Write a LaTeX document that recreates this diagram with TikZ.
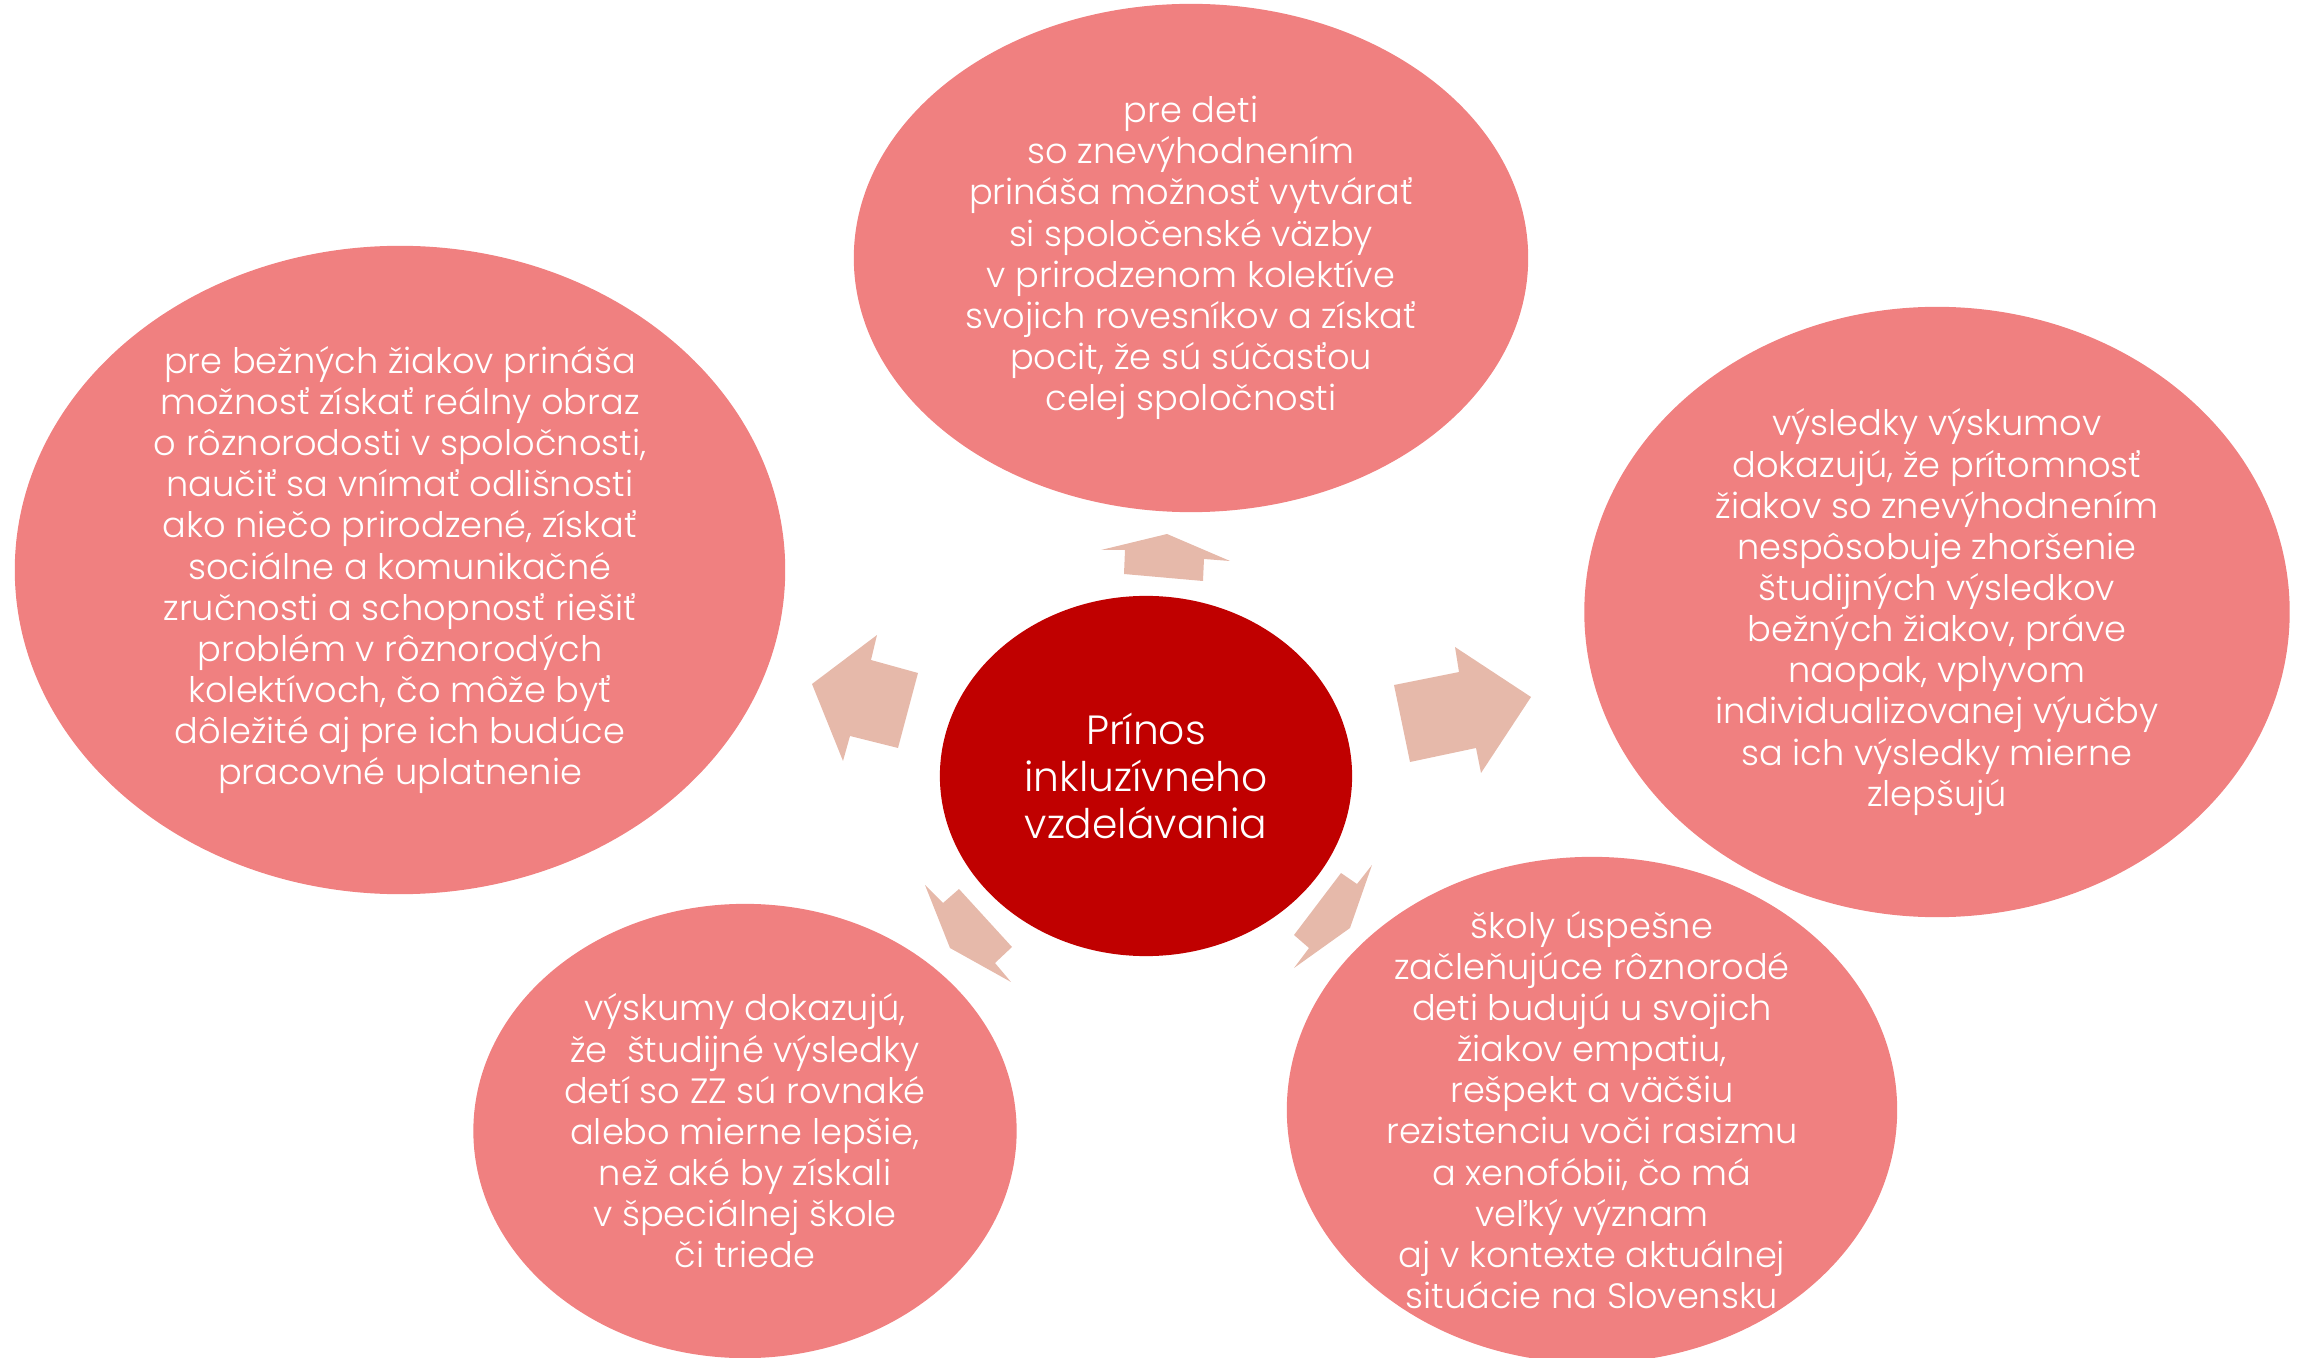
\documentclass[tikz,border=0pt]{standalone}
\usepackage{fontspec}
\setmainfont{Poppins}[UprightFont=* Light]
\usepackage{tikz}
\definecolor{bubbleRose}{RGB}{240,128,128}
\definecolor{coreRed}{RGB}{192,0,0}
\definecolor{arrowBlush}{RGB}{230,185,170}
\usetikzlibrary{shapes.geometric}

\begin{document}
\begin{tikzpicture}[x=0.01cm, y=-0.01cm,
        bubble/.style={ellipse, fill=bubbleRose, inner sep=0pt},
        bubbletext/.style={text=white, align=center, inner sep=0pt, font=\fontsize{10}{11.7}\selectfont},
        arrowpiece/.style={fill=arrowBlush}]
    \useasboundingbox (0,0) rectangle (2305,1358);
    \node[bubble, minimum width=6.74cm, minimum height=5.08cm] (benefitTop) at (1191,258) {};
    \node[bubble, minimum width=7.70cm, minimum height=6.48cm] (benefitLeft) at (400,570) {};
    \node[bubble, minimum width=7.05cm, minimum height=6.10cm] (benefitRight) at (1937,612) {};
    \node[bubble, minimum width=5.43cm, minimum height=4.54cm] (benefitLowLeft) at (745,1131) {};
    \node[bubble, minimum width=6.10cm, minimum height=5.06cm] (benefitLowRight) at (1592,1110) {};
    \node[ellipse, fill=coreRed, minimum width=4.12cm, minimum height=3.60cm, inner sep=0pt] (core) at (1146,776) {};

    \fill[arrowpiece] (1101,550) -- (1167,534) -- (1230,561) -- (1204,559) -- (1203,581) -- (1124,574) -- (1125,550) -- cycle;
    \fill[arrowpiece] (1394,685) -- (1459,672) -- (1455,647) -- (1531,697) -- (1481,773) -- (1476,748) -- (1410,762) -- cycle;
    \fill[arrowpiece] (877,635) -- (871,660) -- (918,673) -- (898,748) -- (850,736) -- (843,761) -- (812,684) -- cycle;
    \fill[arrowpiece] (925,885) -- (943,903) -- (959,889) -- (1012,947) -- (995,963) -- (1011,982) -- (950,948) -- cycle;
    \fill[arrowpiece] (1372,865) -- (1350,928) -- (1294,968) -- (1309,948) -- (1294,935) -- (1341,873) -- (1357,884) -- cycle;

    \node[text=white, align=center, font=\fontsize{11.6}{13.3}\selectfont] (coreText) at (core) {Prínos\\inkluzívneho\\vzdelávania};
    \node[bubbletext] (topText) at (benefitTop) {pre deti\\so znevýhodnením\\prináša možnosť vytvárať\\si spoločenské väzby\\v prirodzenom kolektíve\\svojich rovesníkov a získať\\pocit, že sú súčasťou\\celej spoločnosti};
    \node[bubbletext] (leftText) at (benefitLeft) {pre bežných žiakov prináša\\možnosť získať reálny obraz\\o rôznorodosti v spoločnosti,\\naučiť sa vnímať odlišnosti\\ako niečo prirodzené, získať\\sociálne a komunikačné\\zručnosti a schopnosť riešiť\\problém v rôznorodých\\kolektívoch, čo môže byť\\dôležité aj pre ich budúce\\pracovné uplatnenie};
    \node[bubbletext] (rightText) at (benefitRight) {výsledky výskumov\\dokazujú, že prítomnosť\\žiakov so znevýhodnením\\nespôsobuje zhoršenie\\študijných výsledkov\\bežných žiakov, práve\\naopak, vplyvom\\individualizovanej výučby\\sa ich výsledky mierne\\zlepšujú};
    \node[bubbletext] (lowLeftText) at (benefitLowLeft) {výskumy dokazujú,\\že\ \ študijné výsledky\\detí so ZZ sú rovnaké\\alebo mierne lepšie,\\než aké by získali\\v špeciálnej škole\\či triede};
    \node[bubbletext] (lowRightText) at (benefitLowRight) {školy úspešne\\začleňujúce rôznorodé\\deti budujú u svojich\\žiakov empatiu,\\rešpekt a väčšiu\\rezistenciu voči rasizmu\\a xenofóbii, čo má\\veľký význam\\aj v kontexte aktuálnej\\situácie na Slovensku};
\end{tikzpicture}
\end{document}
